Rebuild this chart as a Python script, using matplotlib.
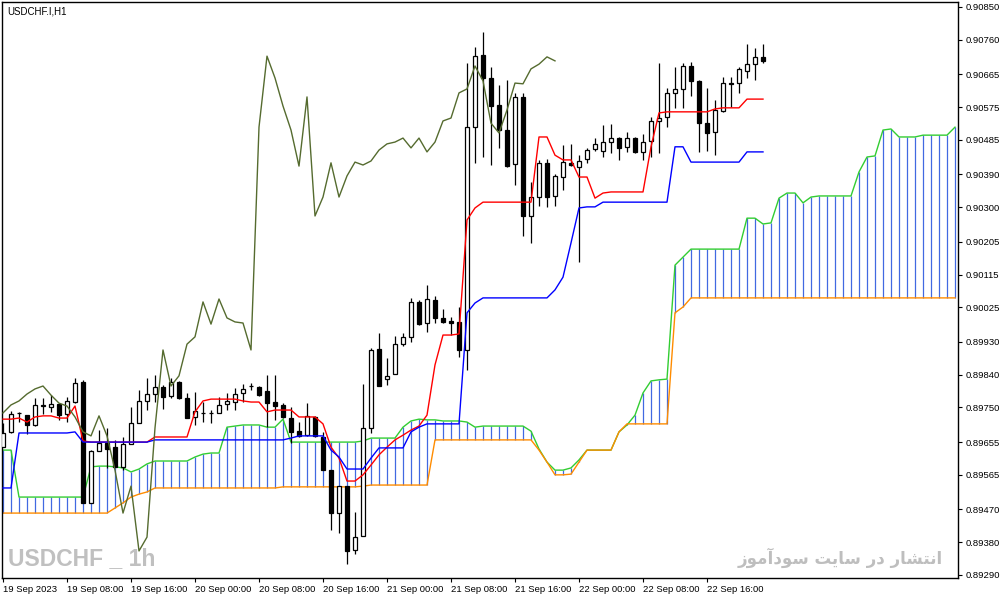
import matplotlib
matplotlib.use("Agg")
import matplotlib.pyplot as plt
import numpy as np

# USDCHF.I H1, 19-22 Sep 2023, one entry per hourly bar
opens = [0.89641, 0.89683, 0.89735, 0.89729, 0.89702, 0.89754, 0.89751, 0.89760, 0.89732, 0.89765,
         0.89820, 0.89488, 0.89630, 0.89652, 0.89641, 0.89587, 0.89650, 0.89707, 0.89768, 0.89787,
         0.89806, 0.89782, 0.89820, 0.89776, 0.89724, 0.89735, 0.89735, 0.89735, 0.89760, 0.89765,
         0.89790, 0.89809, 0.89806, 0.89795, 0.89765, 0.89757, 0.89721, 0.89685, 0.89674, 0.89724,
         0.89669, 0.89578, 0.89460, 0.89534, 0.89359, 0.89397, 0.89694, 0.89911, 0.89828, 0.89842,
         0.89924, 0.89944, 0.90040, 0.89982, 0.90045, 0.89996, 0.89988, 0.89985, 0.89908, 0.90520,
         0.90718, 0.90655, 0.90581, 0.90512, 0.90419, 0.90603, 0.90276, 0.90328, 0.90422, 0.90331,
         0.90383, 0.90422, 0.90411, 0.90433, 0.90460, 0.90455, 0.90479, 0.90490, 0.90466, 0.90490,
         0.90452, 0.90482, 0.90537, 0.90548, 0.90614, 0.90625, 0.90688, 0.90647, 0.90531, 0.90507,
         0.90564, 0.90641, 0.90641, 0.90674, 0.90693, 0.90713]
highs = [0.89707, 0.89740, 0.89738, 0.89729, 0.89776, 0.89776, 0.89784, 0.89762, 0.89779, 0.89831,
         0.89826, 0.89633, 0.89688, 0.89694, 0.89661, 0.89669, 0.89751, 0.89798, 0.89831, 0.89839,
         0.89812, 0.89831, 0.89823, 0.89790, 0.89793, 0.89765, 0.89743, 0.89779, 0.89790, 0.89804,
         0.89815, 0.89817, 0.89809, 0.89839, 0.89839, 0.89762, 0.89751, 0.89710, 0.89762, 0.89727,
         0.89683, 0.89578, 0.89534, 0.89534, 0.89463, 0.89815, 0.89913, 0.89955, 0.89886, 0.89946,
         0.89955, 0.90051, 0.90045, 0.90086, 0.90056, 0.90021, 0.89999, 0.90026, 0.90696, 0.90740,
         0.90781, 0.90685, 0.90636, 0.90650, 0.90614, 0.90614, 0.90369, 0.90430, 0.90433, 0.90391,
         0.90471, 0.90474, 0.90443, 0.90463, 0.90490, 0.90526, 0.90529, 0.90493, 0.90507, 0.90493,
         0.90501, 0.90548, 0.90696, 0.90628, 0.90685, 0.90696, 0.90699, 0.90650, 0.90628, 0.90595,
         0.90658, 0.90658, 0.90685, 0.90748, 0.90737, 0.90748]
lows = [0.89641, 0.89680, 0.89710, 0.89677, 0.89699, 0.89732, 0.89738, 0.89716, 0.89710, 0.89762,
        0.89488, 0.89488, 0.89630, 0.89584, 0.89587, 0.89578, 0.89650, 0.89707, 0.89743, 0.89765,
        0.89746, 0.89776, 0.89773, 0.89721, 0.89702, 0.89710, 0.89707, 0.89735, 0.89743, 0.89743,
        0.89765, 0.89798, 0.89782, 0.89696, 0.89716, 0.89721, 0.89652, 0.89669, 0.89672, 0.89669,
        0.89578, 0.89414, 0.89405, 0.89320, 0.89348, 0.89397, 0.89680, 0.89809, 0.89812, 0.89842,
        0.89919, 0.89930, 0.89977, 0.89957, 0.89982, 0.89982, 0.89949, 0.89889, 0.89853, 0.90422,
        0.90438, 0.90416, 0.90463, 0.90411, 0.90361, 0.90221, 0.90202, 0.90303, 0.90301, 0.90303,
        0.90347, 0.90413, 0.90150, 0.90422, 0.90455, 0.90438, 0.90449, 0.90430, 0.90452, 0.90449,
        0.90430, 0.90438, 0.90449, 0.90520, 0.90573, 0.90573, 0.90606, 0.90452, 0.90455, 0.90443,
        0.90562, 0.90575, 0.90614, 0.90655, 0.90650, 0.90696]
closes = [0.89680, 0.89732, 0.89735, 0.89702, 0.89757, 0.89757, 0.89760, 0.89729, 0.89768, 0.89817,
          0.89488, 0.89630, 0.89652, 0.89636, 0.89587, 0.89650, 0.89707, 0.89768, 0.89787, 0.89806,
          0.89779, 0.89820, 0.89776, 0.89721, 0.89740, 0.89735, 0.89735, 0.89757, 0.89768, 0.89787,
          0.89801, 0.89809, 0.89784, 0.89762, 0.89754, 0.89724, 0.89683, 0.89672, 0.89727, 0.89672,
          0.89578, 0.89460, 0.89534, 0.89356, 0.89394, 0.89694, 0.89908, 0.89809, 0.89837, 0.89924,
          0.89944, 0.90040, 0.89979, 0.90048, 0.89996, 0.89985, 0.89982, 0.89908, 0.90520, 0.90715,
          0.90655, 0.90578, 0.90512, 0.90413, 0.90603, 0.90276, 0.90328, 0.90422, 0.90328, 0.90386,
          0.90424, 0.90416, 0.90427, 0.90457, 0.90474, 0.90479, 0.90490, 0.90463, 0.90490, 0.90452,
          0.90479, 0.90537, 0.90545, 0.90614, 0.90625, 0.90688, 0.90647, 0.90531, 0.90504, 0.90567,
          0.90641, 0.90639, 0.90680, 0.90693, 0.90713, 0.90702]

tenkan = [0.89718, 0.89718, 0.89721, 0.89710, 0.89724, 0.89727, 0.89727, 0.89721, 0.89721, 0.89754,
          0.89658, 0.89655, 0.89655, 0.89655, 0.89655, 0.89655, 0.89655, 0.89655, 0.89655, 0.89669,
          0.89669, 0.89669, 0.89669, 0.89669, 0.89738, 0.89768, 0.89773, 0.89773, 0.89773, 0.89773,
          0.89768, 0.89765, 0.89765, 0.89738, 0.89743, 0.89743, 0.89743, 0.89724, 0.89724, 0.89724,
          0.89705, 0.89641, 0.89611, 0.89548, 0.89548, 0.89565, 0.89592, 0.89620, 0.89641, 0.89661,
          0.89674, 0.89688, 0.89699, 0.89729, 0.89867, 0.89949, 0.89949, 0.89952, 0.90265, 0.90298,
          0.90314, 0.90314, 0.90314, 0.90314, 0.90314, 0.90314, 0.90314, 0.90493, 0.90493, 0.90443,
          0.90430, 0.90430, 0.90383, 0.90383, 0.90325, 0.90339, 0.90342, 0.90342, 0.90342, 0.90342,
          0.90342, 0.90466, 0.90559, 0.90562, 0.90562, 0.90562, 0.90562, 0.90562, 0.90562, 0.90570,
          0.90573, 0.90573, 0.90573, 0.90597, 0.90597, 0.90597]
kijun = [0.89529, 0.89529, 0.89680, 0.89680, 0.89680, 0.89680, 0.89680, 0.89680, 0.89680, 0.89683,
         0.89655, 0.89655, 0.89655, 0.89655, 0.89655, 0.89655, 0.89655, 0.89655, 0.89655, 0.89661,
         0.89661, 0.89661, 0.89661, 0.89661, 0.89661, 0.89661, 0.89661, 0.89661, 0.89661, 0.89661,
         0.89661, 0.89661, 0.89661, 0.89661, 0.89661, 0.89661, 0.89666, 0.89672, 0.89672, 0.89672,
         0.89672, 0.89633, 0.89614, 0.89581, 0.89581, 0.89581, 0.89611, 0.89639, 0.89639, 0.89639,
         0.89639, 0.89683, 0.89696, 0.89705, 0.89705, 0.89705, 0.89705, 0.89705, 0.90010, 0.90037,
         0.90051, 0.90051, 0.90051, 0.90051, 0.90051, 0.90051, 0.90051, 0.90051, 0.90051, 0.90073,
         0.90108, 0.90202, 0.90298, 0.90301, 0.90301, 0.90314, 0.90314, 0.90314, 0.90314, 0.90314,
         0.90314, 0.90314, 0.90314, 0.90314, 0.90466, 0.90466, 0.90424, 0.90424, 0.90424, 0.90424,
         0.90424, 0.90424, 0.90424, 0.90452, 0.90452, 0.90452]
# senkou spans run 26 bars past the last candle
span_a = [0.89633, 0.89633, 0.89504, 0.89504, 0.89504, 0.89504, 0.89504, 0.89504, 0.89504, 0.89504,
          0.89504, 0.89587, 0.89589, 0.89589, 0.89587, 0.89584, 0.89573, 0.89581, 0.89595, 0.89603,
          0.89603, 0.89603, 0.89603, 0.89603, 0.89614, 0.89622, 0.89625, 0.89625, 0.89696, 0.89699,
          0.89702, 0.89702, 0.89702, 0.89696, 0.89696, 0.89718, 0.89655, 0.89655, 0.89655, 0.89655,
          0.89655, 0.89655, 0.89655, 0.89655, 0.89655, 0.89658, 0.89666, 0.89666, 0.89666, 0.89666,
          0.89696, 0.89713, 0.89718, 0.89716, 0.89716, 0.89713, 0.89713, 0.89713, 0.89710, 0.89696,
          0.89699, 0.89699, 0.89699, 0.89699, 0.89699, 0.89699, 0.89685, 0.89636, 0.89600, 0.89578,
          0.89578, 0.89584, 0.89606, 0.89633, 0.89633, 0.89633, 0.89633, 0.89683, 0.89702, 0.89729,
          0.89790, 0.89823, 0.89826, 0.89828, 0.90141, 0.90163, 0.90185, 0.90185, 0.90185, 0.90185,
          0.90185, 0.90185, 0.90185, 0.90270, 0.90270, 0.90254, 0.90257, 0.90325, 0.90339, 0.90339,
          0.90312, 0.90328, 0.90331, 0.90331, 0.90331, 0.90331, 0.90331, 0.90397, 0.90438, 0.90441,
          0.90512, 0.90515, 0.90493, 0.90493, 0.90493, 0.90498, 0.90498, 0.90498, 0.90498, 0.90520]
span_b = [0.89460, 0.89460, 0.89460, 0.89460, 0.89460, 0.89460, 0.89460, 0.89460, 0.89460, 0.89460,
          0.89460, 0.89460, 0.89460, 0.89460, 0.89474, 0.89488, 0.89504, 0.89512, 0.89518, 0.89529,
          0.89529, 0.89529, 0.89529, 0.89529, 0.89529, 0.89529, 0.89529, 0.89529, 0.89529, 0.89529,
          0.89529, 0.89529, 0.89529, 0.89529, 0.89529, 0.89532, 0.89532, 0.89532, 0.89532, 0.89532,
          0.89532, 0.89532, 0.89532, 0.89532, 0.89532, 0.89534, 0.89537, 0.89537, 0.89537, 0.89537,
          0.89537, 0.89537, 0.89537, 0.89537, 0.89661, 0.89661, 0.89661, 0.89661, 0.89661, 0.89661,
          0.89661, 0.89661, 0.89661, 0.89661, 0.89661, 0.89661, 0.89661, 0.89633, 0.89600, 0.89565,
          0.89565, 0.89567, 0.89600, 0.89633, 0.89633, 0.89633, 0.89633, 0.89683, 0.89705, 0.89705,
          0.89705, 0.89705, 0.89705, 0.89705, 0.90010, 0.90026, 0.90051, 0.90051, 0.90051, 0.90051,
          0.90051, 0.90051, 0.90051, 0.90051, 0.90051, 0.90051, 0.90051, 0.90051, 0.90051, 0.90051,
          0.90051, 0.90051, 0.90051, 0.90051, 0.90051, 0.90051, 0.90051, 0.90051, 0.90051, 0.90051,
          0.90051, 0.90051, 0.90051, 0.90051, 0.90051, 0.90051, 0.90051, 0.90051, 0.90051, 0.90051]
chikou_shift = 26

price_ticks = [0.90850, 0.90760, 0.90665, 0.90575, 0.90485, 0.90390, 0.90300, 0.90205, 0.90115,
               0.90025, 0.89930, 0.89840, 0.89750, 0.89655, 0.89565, 0.89470, 0.89380, 0.89290]
date_bars = [0, 8, 16, 24, 32, 40, 48, 56, 64, 72, 80, 88]
date_labels = ["19 Sep 2023", "19 Sep 08:00", "19 Sep 16:00", "20 Sep 00:00", "20 Sep 08:00",
               "20 Sep 16:00", "21 Sep 00:00", "21 Sep 08:00", "21 Sep 16:00", "22 Sep 00:00",
               "22 Sep 08:00", "22 Sep 16:00"]

W, H = 1004, 599
fig = plt.figure(figsize=(W / 100, H / 100), dpi=100)
fig.patch.set_facecolor("white")
# plot area: x 2..958 px, y 2..578 px
ax = fig.add_axes([2 / W, 21 / H, 956 / W, 576 / H])
ax.set_facecolor("white")

o = np.array(opens); h = np.array(highs); l = np.array(lows); c = np.array(closes)
x = np.arange(len(o))
xc = np.arange(len(span_a))

# kumo hatch + span lines
ax.vlines(xc, span_a, span_b, color="#4169E1", lw=0.9, zorder=1)
ax.plot(xc, span_a, color="#32CD32", lw=1.0, zorder=2)
ax.plot(xc, span_b, color="#FF8C00", lw=1.0, zorder=2)

# candles
bull = c >= o
ax.vlines(x, l, h, color="black", lw=0.9, zorder=3)
ax.bar(x, np.abs(c - o), bottom=np.minimum(o, c), width=0.55,
       color=np.where(bull, "white", "black"), edgecolor="black", linewidth=0.9, zorder=4)

# tenkan / kijun / chikou
ax.plot(x, tenkan, color="#FF0000", lw=1.0, zorder=5)
ax.plot(x, kijun, color="#0000FF", lw=1.0, zorder=5)
ax.plot(x[:-chikou_shift], c[chikou_shift:], color="#556B2F", lw=1.0, zorder=5)

ax.set_xlim(-0.125, 119.375)
ax.set_ylim(0.892817, 0.908637)

lbl_font = dict(family=["Liberation Sans", "DejaVu Sans"], size=6.8)
ax.yaxis.tick_right()
ax.set_yticks(price_ticks)
ax.set_yticklabels([f"{p:.5f}" for p in price_ticks], **lbl_font)
ax.set_xticks(date_bars)
ax.set_xticklabels(date_labels, ha="left", **lbl_font)
ax.tick_params(axis="y", direction="out", length=3, width=0.8, pad=2.5, colors="black")
ax.tick_params(axis="x", direction="out", length=3, width=0.8, pad=2, colors="black")
for s in ax.spines.values():
    s.set_color("black")
    s.set_linewidth(1.0)

fig.text(7 / W, 1 - 11 / H, "USDCHF.I,H1", ha="left", va="center",
         family=["Liberation Sans", "DejaVu Sans"], size=7)

fig.text(8 / W, 1 - 559 / H, "USDCHF _ 1h", ha="left", va="center", color="#C0C0C0",
         family=["Liberation Sans", "DejaVu Sans"], weight="bold", size=16.5)

# "انتشار در سایت سودآموز" written with presentation forms in visual order,
# since matplotlib does not shape or reorder Arabic script
fa_text = ("\uFEAF\uFEEE\uFEE3\uFE81\uFEA9\uFEEE\uFEB3 \uFE96\uFEF3\uFE8E\uFEB3 "
           "\uFEAD\uFEA9 \uFEAD\uFE8E\uFEB8\uFE98\uFEE7\uFE8D")
fig.text(943 / W, 1 - 558 / H, fa_text, ha="right", va="center", color="#BEBEBE",
         family=["DejaVu Sans"], weight="bold", size=12)

fig.savefig("out.png", dpi=100, facecolor="white")
